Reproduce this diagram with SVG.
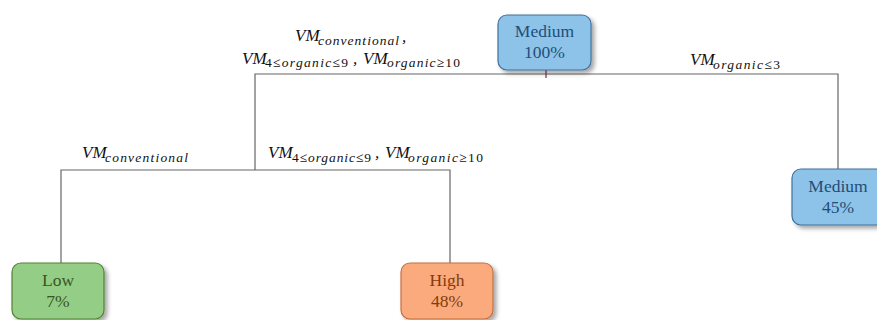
<svg xmlns="http://www.w3.org/2000/svg" width="877" height="320" viewBox="0 0 877 320">
<defs>
<filter id="sh" x="-20%" y="-20%" width="150%" height="150%">
<feDropShadow dx="3" dy="3" stdDeviation="2" flood-color="#000" flood-opacity="0.35"/>
</filter>
<style>
.box{stroke-width:1.2;filter:url(#sh)}
.blue{fill:#8DC3E8;stroke:#41719C}
.green{fill:#93CD86;stroke:#548235}
.orange{fill:#FBAA7D;stroke:#C5703E}
.nt{font-family:"Liberation Serif","DejaVu Serif",serif;font-size:17.5px;text-anchor:middle}
.tb{fill:#1F4E79}.tg{fill:#375623}.to{fill:#843C0C}
.vm{font-family:"Liberation Serif","DejaVu Serif",serif;font-size:17px;font-style:italic;fill:#111}
.sub{font-family:"Liberation Serif","DejaVu Serif",serif;font-size:13.5px;font-style:italic;fill:#111}
.up{font-style:normal}
.ln{fill:none;stroke:#666;stroke-width:1.2}
</style>
</defs>
<rect width="877" height="320" fill="#fff"/>
<g id="connectors">
<path class="ln" d="M255 170 V74 H838 V169"/>
<path class="ln" d="M61 263 V170 H450 V263"/>
<path d="M546 70 V78" fill="none" stroke="#7B2C55" stroke-width="1.2"/>
</g>
<g id="labels">
<text class="vm" x="295" y="41">VM</text>
<text class="sub" x="318" y="44.5" textLength="81" lengthAdjust="spacing">conventional</text>
<text class="vm" x="402" y="42">,</text>
<text class="vm" x="242" y="63.5">VM</text>
<text class="sub" x="265" y="67" textLength="83" lengthAdjust="spacing"><tspan class="up">4≤</tspan>organic<tspan class="up">≤9</tspan></text>
<text class="vm" x="353" y="63.5">,</text>
<text class="vm" x="363" y="63.5">VM</text>
<text class="sub" x="387" y="67" textLength="73" lengthAdjust="spacing">organic<tspan class="up">≥10</tspan></text>
<text class="vm" x="690" y="65">VM</text>
<text class="sub" x="713" y="69" textLength="67" lengthAdjust="spacing">organic<tspan class="up">≤3</tspan></text>
<text class="vm" x="82" y="158">VM</text>
<text class="sub" x="105" y="162" textLength="83" lengthAdjust="spacing">conventional</text>
<text class="vm" x="268" y="158">VM</text>
<text class="sub" x="292" y="162" textLength="79" lengthAdjust="spacing"><tspan class="up">4≤</tspan>organic<tspan class="up">≤9</tspan></text>
<text class="vm" x="375" y="158">,</text>
<text class="vm" x="385" y="158">VM</text>
<text class="sub" x="408" y="162" textLength="75" lengthAdjust="spacing">organic<tspan class="up">≥10</tspan></text>
</g>
<g id="root">
<rect class="box blue" x="498" y="15" width="93" height="55" rx="9"/>
<text class="nt tb" x="544.5" y="37">Medium</text>
<text class="nt tb" x="544.5" y="58">100%</text>
</g>
<g id="medium45">
<rect class="box blue" x="792" y="169" width="93" height="56" rx="9"/>
<text class="nt tb" x="838" y="192">Medium</text>
<text class="nt tb" x="838" y="213">45%</text>
</g>
<g id="low">
<rect class="box green" x="12" y="263" width="92" height="56" rx="9"/>
<text class="nt tg" x="58" y="286">Low</text>
<text class="nt tg" x="58" y="307">7%</text>
</g>
<g id="high">
<rect class="box orange" x="401" y="263" width="92" height="56" rx="9"/>
<text class="nt to" x="447" y="286">High</text>
<text class="nt to" x="447" y="307">48%</text>
</g>
</svg>
